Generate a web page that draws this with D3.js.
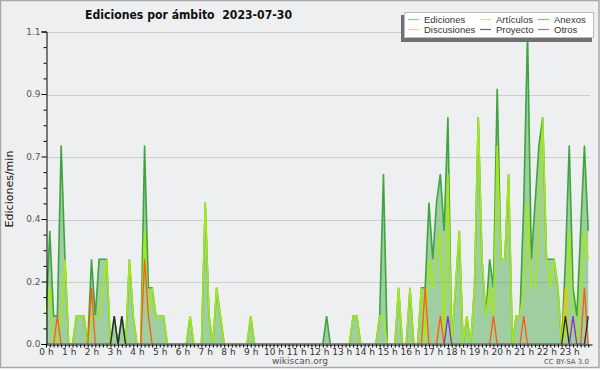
<!DOCTYPE html>
<html>
<head>
<meta charset="utf-8">
<script src="https://cdn.jsdelivr.net/npm/d3@7"></script>
<style>
  body { margin: 0; background: #fff; }
  svg { display: block; font-family: "DejaVu Sans", sans-serif; }
</style>
</head>
<body>
<svg id="chart"></svg>
<script>
// rates in edits/min, one value per 10-minute slot (00:00 .. 23:50)
const ediciones = [
  0.1,0.4,0.1,0.1,0.7,0.3,0,0,0.1,0.1,0.1,0,
  0.3,0.1,0.3,0.3,0.3,0,0.1,0,0.1,0,0.3,0.1,
  0,0,0.7,0.2,0.2,0.1,0.1,0.1,0,0,0,0,
  0,0,0.1,0,0,0,0.5,0.1,0,0.2,0.1,0,
  0,0,0,0,0,0,0.1,0,0,0,0,0,
  0,0,0,0,0,0,0,0,0,0,0,0,
  0,0,0.1,0,0,0,0,0,0,0.1,0.1,0,
  0,0,0,0,0.1,0.6,0,0,0,0.2,0,0,
  0.2,0,0,0.2,0.2,0.5,0.3,0.5,0.6,0.4,0.8,0,
  0.2,0.4,0,0.1,0,0.2,0.8,0.3,0.1,0.3,0.2,0.9,
  0.3,0.3,0.6,0,0.1,0.1,0.5,1.1,0.3,0.5,0.7,0.8,
  0.3,0.3,0.3,0.2,0,0.3,0.7,0.2,0.1,0.4,0.7,0.4
];
const articulos = [
  0.1,0.2,0,0,0.1,0.3,0,0,0.1,0.1,0.1,0,
  0.1,0.1,0.1,0.2,0.3,0,0,0,0,0,0.3,0.1,
  0,0,0.4,0.1,0.2,0.1,0.1,0.1,0,0,0,0,
  0,0,0.1,0,0,0,0.5,0.1,0,0.2,0.1,0,
  0,0,0,0,0,0,0.1,0,0,0,0,0,
  0,0,0,0,0,0,0,0,0,0,0,0,
  0,0,0,0,0,0,0,0,0,0.1,0.1,0,
  0,0,0,0,0.1,0.1,0,0,0,0.2,0,0,
  0.2,0,0,0.2,0,0.3,0.2,0.3,0.4,0,0.6,0,
  0.2,0.4,0,0.1,0,0.2,0.8,0.3,0.1,0.2,0.1,0.7,
  0.3,0.3,0.6,0,0.1,0.1,0.2,0.5,0.2,0.2,0.4,0.8,
  0.3,0.2,0.3,0.2,0,0,0.4,0.1,0,0.2,0.4,0.3
];
const anexos = [
  0,0,0,0.1,0,0,0,0,0,0,0,0,
  0.2,0,0,0,0,0,0,0,0,0,0,0,
  0,0,0.3,0.1,0,0,0,0,0,0,0,0,
  0,0,0,0,0,0,0,0,0,0,0,0,
  0,0,0,0,0,0,0,0,0,0,0,0,
  0,0,0,0,0,0,0,0,0,0,0,0,
  0,0,0,0,0,0,0,0,0,0,0,0,
  0,0,0,0,0,0,0,0,0,0,0,0,
  0,0,0,0,0.2,0,0,0,0.1,0,0,0,
  0,0,0,0,0,0,0,0,0,0,0.1,0,
  0,0,0,0,0,0,0.1,0,0,0,0,0,
  0,0,0,0,0,0,0,0,0,0,0.2,0
];
const discusiones = [
  0,0,0,0,0,0,0,0,0,0,0,0,
  0,0,0,0,0,0,0,0,0,0,0,0,
  0,0,0,0,0,0,0,0,0,0,0,0,
  0,0,0,0,0,0,0,0,0,0,0,0,
  0,0,0,0,0,0,0,0,0,0,0,0,
  0,0,0,0,0,0,0,0,0,0,0,0,
  0,0,0,0,0,0,0,0,0,0,0,0,
  0,0,0,0,0,0,0,0,0,0,0,0,
  0,0,0,0,0,0,0,0,0,0,0,0,
  0,0,0,0,0,0,0,0,0,0,0,0,
  0,0,0,0,0,0,0,0,0,0,0,0,
  0,0,0,0,0,0.2,0,0,0,0,0,0
];
const proyecto = [
  0,0,0,0,0,0,0,0,0,0,0,0,
  0,0,0,0,0,0,0.1,0,0.1,0,0,0,
  0,0,0,0,0,0,0,0,0,0,0,0,
  0,0,0,0,0,0,0,0,0,0,0,0,
  0,0,0,0,0,0,0,0,0,0,0,0,
  0,0,0,0,0,0,0,0,0,0,0,0,
  0,0,0,0,0,0,0,0,0,0,0,0,
  0,0,0,0,0,0,0,0,0,0,0,0,
  0,0,0,0,0,0,0,0,0,0,0,0,
  0,0,0,0,0,0,0,0,0,0,0,0,
  0,0,0,0,0,0,0,0,0,0,0,0,
  0,0,0,0,0,0.1,0,0,0,0,0,0.1
];
const otros = [
  0,0,0,0,0,0,0,0,0,0,0,0,
  0,0,0,0,0,0,0,0,0,0,0,0,
  0,0,0,0,0,0,0,0,0,0,0,0,
  0,0,0,0,0,0,0,0,0,0,0,0,
  0,0,0,0,0,0,0,0,0,0,0,0,
  0,0,0,0,0,0,0,0,0,0,0,0,
  0,0,0,0,0,0,0,0,0,0,0,0,
  0,0,0,0,0,0,0,0,0,0,0,0,
  0,0,0,0,0,0,0,0,0,0,0.1,0,
  0,0,0,0,0,0,0,0,0,0,0,0,
  0,0,0,0,0,0,0,0,0,0,0,0,
  0,0,0,0,0,0,0,0.1,0,0,0,0
];

const hourLabels = ["0 h","1 h","2 h","3 h","4 h","5 h","6 h","7 h","8 h","9 h","10 h","11 h",
  "12 h","13 h","14 h","15 h","16 h","17 h","18 h","19 h","20 h","21 h","22 h","23 h"];
const yTicks = [0, 0.22, 0.44, 0.66, 0.88, 1.1];

const legendItems = [
  { name: "Ediciones",   color: "#8fd08f" },
  { name: "Artículos",   color: "#ccee66" },
  { name: "Anexos",      color: "#ff8a55" },
  { name: "Discusiones", color: "#ffd855" },
  { name: "Proyecto",    color: "#666666" },
  { name: "Otros",       color: "#a860ff" }
];

const width = 600, height = 370;
const margin = { top: 32, left: 46, right: 8, bottom: 26 };

const svg = d3.select('#chart')
  .attr('width', width)
  .attr('height', height);

svg.append('rect')
  .attr('width', width).attr('height', height)
  .attr('fill', '#ffffff');
svg.append('rect')
  .attr('x', 0.5).attr('y', 0.5)
  .attr('width', width - 1.5).attr('height', 367)
  .attr('fill', '#eeeff0')
  .attr('stroke', '#a8a8a8')
  .attr('stroke-width', 1.5);

// slot start times in minutes
const slots = ediciones.map((d, i) => i * 10);

const xScale = d3.scaleLinear()
  .domain([0, 1440])
  .range([margin.left, 592]);

const yScale = d3.scaleLinear()
  .domain([0, 1.1])
  .range([344.5, margin.top]);

// clip so that zero-valued lines hide under the x axis
svg.append('defs').append('clipPath')
  .attr('id', 'plotClip')
  .append('rect')
  .attr('x', margin.left).attr('y', 0)
  .attr('width', 550).attr('height', 344);

// grid
svg.append('g')
  .selectAll('line')
  .data(yTicks.slice(1))
  .enter()
  .append('line')
  .attr('x1', margin.left).attr('x2', 590)
  .attr('y1', d => Math.round(yScale(d)) + 0.5)
  .attr('y2', d => Math.round(yScale(d)) + 0.5)
  .attr('stroke', '#cdcdcd');

const plot = svg.append('g').attr('clip-path', 'url(#plotClip)');

// Ediciones area
const area = d3.area()
  .x((d, i) => xScale(slots[i]))
  .y0(yScale(0))
  .y1(d => yScale(d));

plot.append('path')
  .datum(ediciones)
  .attr('d', area)
  .attr('fill', 'rgb(50,160,50)')
  .attr('fill-opacity', 0.42);

const line = d3.line()
  .x((d, i) => xScale(slots[i]))
  .y(d => yScale(d));

const series = [
  { data: ediciones,   color: '#3fa33f', w: 1.6 },
  { data: articulos,   color: '#a4e81c', w: 1.6 },
  { data: anexos,      color: '#ff5a10', w: 1.3 },
  { data: discusiones, color: '#f2c400', w: 1.3 },
  { data: proyecto,    color: '#2a2a2a', w: 1.3 },
  { data: otros,       color: '#8a2be2', w: 1.3 }
];

plot.selectAll('path.serie')
  .data(series)
  .enter()
  .append('path')
  .attr('class', 'serie')
  .attr('d', d => line(d.data))
  .attr('fill', 'none')
  .attr('stroke', d => d.color)
  .attr('stroke-width', d => d.w)
  .attr('stroke-linejoin', 'miter');

// y axis
const yAxis = d3.axisLeft(yScale)
  .tickValues(yTicks)
  .tickFormat(d3.format('.1f'))
  .tickSize(5)
  .tickPadding(1);

const yAxisGroup = svg.append('g')
  .attr('transform', `translate(${margin.left + 0.5},-0.5)`)
  .call(yAxis);
yAxisGroup.select('.domain').attr('stroke', '#000');
yAxisGroup.selectAll('.tick line').attr('stroke', '#000');
yAxisGroup.selectAll('text')
  .attr('font-size', 9)
  .attr('fill', '#555')
  .attr('font-family', '"DejaVu Sans", sans-serif');

const yMinor = d3.axisLeft(yScale)
  .tickValues(d3.range(1, 20).filter(k => k % 4 !== 0).map(k => k * 0.055))
  .tickFormat('')
  .tickSize(3);
svg.append('g')
  .attr('transform', `translate(${margin.left + 0.5},-0.5)`)
  .call(yMinor)
  .call(g => g.select('.domain').remove())
  .selectAll('.tick line').attr('stroke', '#000');

// x axis
const xAxis = d3.axisBottom(xScale)
  .tickValues(d3.range(0, 1440, 10))
  .tickFormat(d => d % 60 === 0 ? hourLabels[d / 60] : '')
  .tickSize(3)
  .tickSizeOuter(0)
  .tickPadding(1);

const xAxisGroup = svg.append('g')
  .attr('transform', `translate(0,${yScale(0)})`)
  .call(xAxis);
xAxisGroup.select('.domain').attr('stroke', '#000');
xAxisGroup.selectAll('.tick line').attr('stroke', '#000');
xAxisGroup.selectAll('text')
  .attr('font-size', 9)
  .attr('fill', '#333')
  .attr('font-family', '"DejaVu Sans", sans-serif');

// titles
svg.append('text')
  .attr('x', 85).attr('y', 19)
  .attr('font-size', 12.5)
  .attr('font-weight', 'bold')
  .attr('fill', '#111')
  .attr('textLength', 207)
  .attr('lengthAdjust', 'spacingAndGlyphs')
  .style('white-space', 'pre')
  .text('Ediciones por ámbito  2023-07-30');

svg.append('text')
  .attr('transform', 'translate(13,189) rotate(-90)')
  .attr('text-anchor', 'middle')
  .attr('font-size', 11)
  .attr('fill', '#111')
  .text('Ediciones/min');

svg.append('text')
  .attr('x', 300).attr('y', 364)
  .attr('text-anchor', 'middle')
  .attr('font-size', 9)
  .attr('fill', '#555')
  .text('wikiscan.org');

svg.append('text')
  .attr('x', 589).attr('y', 364)
  .attr('text-anchor', 'end')
  .attr('font-size', 7)
  .attr('fill', '#555')
  .text('CC BY-SA 3.0');

// legend
const legend = svg.append('g');
legend.append('rect')
  .attr('x', 401).attr('y', 15)
  .attr('width', 191).attr('height', 27)
  .attr('fill', '#707070');
legend.append('rect')
  .attr('x', 404.5).attr('y', 12.5)
  .attr('width', 189).attr('height', 25)
  .attr('fill', '#fff')
  .attr('stroke', '#bbb');

const colX = [408, 480, 538];
const rowY = [19, 29];
const legendRows = legend.selectAll('g.item')
  .data(legendItems)
  .enter()
  .append('g')
  .attr('class', 'item')
  .attr('transform', (d, i) => `translate(${colX[i % 3]},${rowY[Math.floor(i / 3)]})`);

legendRows.append('line')
  .attr('x1', 0).attr('x2', 11)
  .attr('y1', 0.5).attr('y2', 0.5)
  .attr('stroke', d => d.color)
  .attr('stroke-width', 1.2);

legendRows.append('text')
  .attr('x', 16).attr('y', 4)
  .attr('font-size', 9.5)
  .attr('font-family', '"Liberation Sans", Arial, sans-serif')
  .attr('fill', '#333')
  .text(d => d.name);
</script>
</body>
</html>
